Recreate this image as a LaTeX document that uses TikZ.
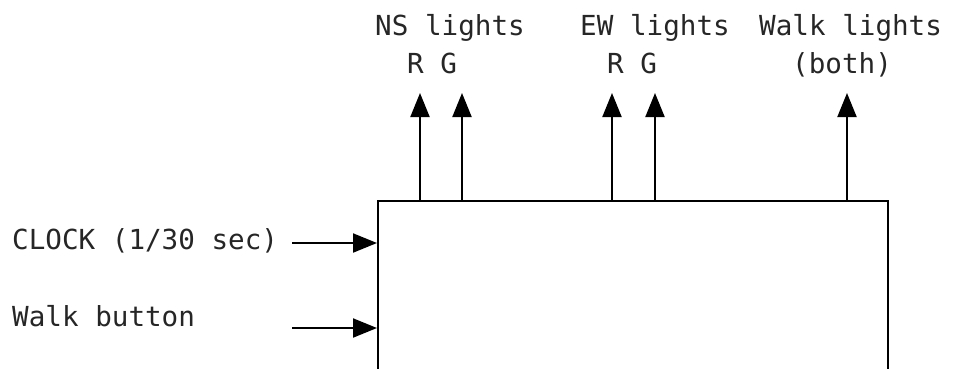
\documentclass[tikz,border=0pt]{standalone}
\usepackage{fontspec}
\setmonofont{DejaVu Sans Mono}
\usetikzlibrary{positioning, arrows.meta}

\begin{document}
\begin{tikzpicture}[
    x=1pt, y=-1pt,
    >={Triangle[length=24pt, width=19pt]},
    lbl/.style={
        font=\ttfamily\fontsize{27.6}{32}\selectfont, text=black!85,
        inner sep=0pt, anchor=base west
    },
    ctrlbox/.style={draw, line width=2pt, inner sep=0pt, anchor=north west},
    arr/.style={->, draw=black, line width=2pt},
]
\useasboundingbox (0,0) rectangle (953,368);

% Controller box (runs off the bottom)
\node[ctrlbox, minimum width=510pt, minimum height=230pt] (ctrl) at (377,200) {};

% Output labels
\node[lbl] (nslbl) at (375,35) {NS lights};
\node[lbl] (nsrg) at (407,73) {R G};
\node[lbl] (ewlbl) at (580,35) {EW lights};
\node[lbl] (ewrg) at (607,73) {R G};
\node[lbl] (wklbl) at (759,35) {Walk lights};
\node[lbl] (wkboth) at (792,73) {(both)};

% Input labels
\node[lbl] (clklbl) at (12,249) {CLOCK (1/30 sec)};
\node[lbl] (btnlbl) at (12,326) {Walk button};

% Arrow ends
\coordinate (nsR) at (420,93);
\coordinate (nsG) at (462,93);
\coordinate (ewR) at (612,93);
\coordinate (ewG) at (655,93);
\coordinate (wk) at (847,93);
\coordinate (clkin) at (292,243);
\coordinate (btnin) at (292,328);

% Outputs
\draw[arr] (ctrl.north -| nsR) -- (nsR);
\draw[arr] (ctrl.north -| nsG) -- (nsG);
\draw[arr] (ctrl.north -| ewR) -- (ewR);
\draw[arr] (ctrl.north -| ewG) -- (ewG);
\draw[arr] (ctrl.north -| wk) -- (wk);

% Inputs
\draw[arr] (clkin) -- (clkin -| ctrl.west);
\draw[arr] (btnin) -- (btnin -| ctrl.west);

\end{tikzpicture}
\end{document}
